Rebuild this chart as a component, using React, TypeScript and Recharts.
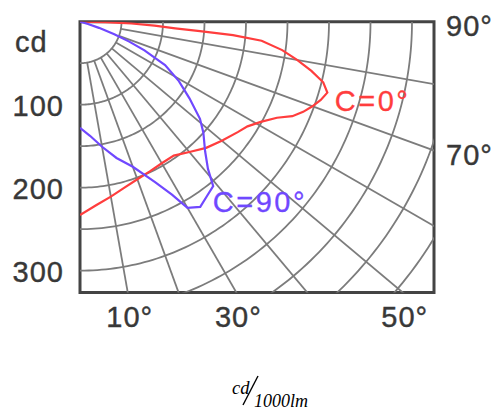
import { LineChart, Line, XAxis, YAxis, ReferenceArea, ReferenceDot } from 'recharts';

// C=0° plane: gamma angle (deg) and luminous intensity (cd/1000lm)
const c0Angles = [0, 5, 10, 15, 20, 25, 30, 35, 40, 45, 50, 55, 58, 61, 64, 66, 68, 70, 72, 74, 76, 78, 80, 82, 84, 85, 85.5, 86, 87, 88, 89, 90];
const c0Values = [233, 222, 214, 207, 202, 199, 197, 197, 205, 215, 223, 232, 238, 249, 264, 280, 290, 298, 305, 310, 302, 285, 266, 246, 220, 185, 145, 115, 90, 62, 30, 0];

// C=90° plane
const c90Angles = [0, 5, 10, 15, 20, 25, 28, 30, 33, 36, 39, 41, 44, 48, 51, 55, 59, 63, 66, 68, 70, 72, 74, 76, 90];
const c90Values = [128, 138, 153, 170, 186, 213, 236, 259, 266, 260, 255, 235, 217, 200, 186, 161, 139, 115, 85, 64, 44, 24, 10, 0, 0];

// polar grid
const gridRadii = [50, 100, 150, 200, 250, 300, 350, 400, 450, 500];
const gridAngles = [10, 20, 30, 40, 50, 60, 70, 80];

// axis labels
const cdTicks = [0, 100, 200, 300];
const bottomAngles = [10, 30, 50];
const rightAngles = [70, 90];

const X_MAX = 426.5;
const Y_MAX = 326.3;

const RED = '#ff3d3d';
const BLUE = '#7048ff';
const GRID = '#7c7c7c';
const TEXT = '#383838';
const FONT = '"Liberation Sans", Arial, sans-serif';

const rad = (d: number) => (d * Math.PI) / 180;
const toXY = (deg: number, cd: number) => ({ x: cd * Math.sin(rad(deg)), y: cd * Math.cos(rad(deg)) });

const c0Data = c0Angles.map((a, i) => toXY(a, c0Values[i]));
const c90Data = c90Angles.map((a, i) => toXY(a, c90Values[i]));

const arcs = gridRadii.map((r) => Array.from({ length: 91 }, (_, i) => toXY(i, r)));
const spokes = gridAngles.map((a) => [toXY(a, 50), toXY(a, 700)]);

const bottomTicks = bottomAngles.map((a) => Y_MAX * Math.tan(rad(a)));
const rightTicks = rightAngles.map((a) => X_MAX / Math.tan(rad(a)));

const textProps = {
  fontSize: 29,
  fill: TEXT,
  stroke: TEXT,
  strokeWidth: 0.4,
  fontFamily: FONT,
  letterSpacing: 1,
  dominantBaseline: 'central' as const,
};

const LeftTick = ({ x, y, payload }: any) => {
  const unit = payload.value === 0;
  return (
    <text x={unit ? 15 : x - 16} y={unit ? y + 20 : y + 1} textAnchor={unit ? 'start' : 'end'} {...textProps}>
      {unit ? 'cd' : payload.value}
    </text>
  );
};

const BottomTick = ({ x, y, index }: any) => (
  <text x={x + 2} y={y + 24.5} textAnchor="middle" {...textProps}>
    {bottomAngles[index]}°
  </text>
);

const RightTick = ({ x, y, index }: any) => (
  <text x={x + 12} y={y + 4} textAnchor="start" {...textProps}>
    {rightAngles[index]}°
  </text>
);

const curveLabel = (text: string, color: string) => (p: any) => (
  <text x={p.cx} y={p.cy} dominantBaseline="central" fontSize={29} fill={color} stroke={color}
    strokeWidth={0.3} fontFamily={FONT} letterSpacing={2.5}>
    {text}
  </text>
);

export default function App() {
  return (
    <div style={{ position: 'absolute', left: 0, top: 0, width: 499, height: 409, background: '#fff', overflow: 'hidden' }}>
      <LineChart width={499} height={409} margin={{ top: 21.7, right: 5, bottom: 76.5, left: 20 }}>
        <XAxis type="number" dataKey="x" domain={[0, X_MAX]} allowDataOverflow ticks={bottomTicks}
          interval={0} tick={<BottomTick />} tickLine={false} axisLine={false} tickSize={0} tickMargin={0} height={40} />
        <YAxis yAxisId="left" type="number" domain={[0, Y_MAX]} reversed allowDataOverflow ticks={cdTicks}
          interval={0} tick={<LeftTick />} tickLine={false} axisLine={false} tickSize={0} tickMargin={0} width={60} />
        <YAxis yAxisId="right" orientation="right" type="number" domain={[0, Y_MAX]} reversed allowDataOverflow
          ticks={rightTicks} interval={0} tick={<RightTick />} tickLine={false} axisLine={false} tickSize={0}
          tickMargin={0} width={60} />

        {arcs.map((pts, i) => (
          <Line key={`arc${i}`} yAxisId="left" data={pts} dataKey="y" stroke={GRID} strokeWidth={1.8}
            dot={false} activeDot={false} isAnimationActive={false} />
        ))}
        {spokes.map((pts, i) => (
          <Line key={`spoke${i}`} yAxisId="left" data={pts} dataKey="y" stroke={GRID} strokeWidth={1.8}
            dot={false} activeDot={false} isAnimationActive={false} />
        ))}

        <ReferenceArea yAxisId="left" x1={0} x2={X_MAX} y1={0} y2={Y_MAX} fill="none" fillOpacity={0}
          stroke="#444" strokeWidth={3} />

        <Line yAxisId="left" data={c0Data} dataKey="y" stroke={RED} strokeWidth={2.2}
          dot={false} activeDot={false} isAnimationActive={false} />
        <Line yAxisId="left" data={c90Data} dataKey="y" stroke={BLUE} strokeWidth={2.2}
          dot={false} activeDot={false} isAnimationActive={false} />

        <ReferenceDot yAxisId="left" x={307} y={95.5} r={0} shape={curveLabel('C=0°', RED)} />
        <ReferenceDot yAxisId="left" x={160} y={217.8} r={0} shape={curveLabel('C=90°', BLUE)} />
      </LineChart>

      <svg width={499} height={49} style={{ position: 'absolute', left: 0, top: 360 }}>
        <text x={232} y={34} fontFamily='"Liberation Serif", "Times New Roman", serif' fontStyle="italic" fontSize={18.5} fill="#000">cd</text>
        <line x1={258} y1={16} x2={243} y2={45} stroke="#000" strokeWidth={1.4} />
        <text x={254} y={46.5} fontFamily='"Liberation Serif", "Times New Roman", serif' fontStyle="italic" fontSize={18} fill="#000">1000lm</text>
      </svg>
    </div>
  );
}
